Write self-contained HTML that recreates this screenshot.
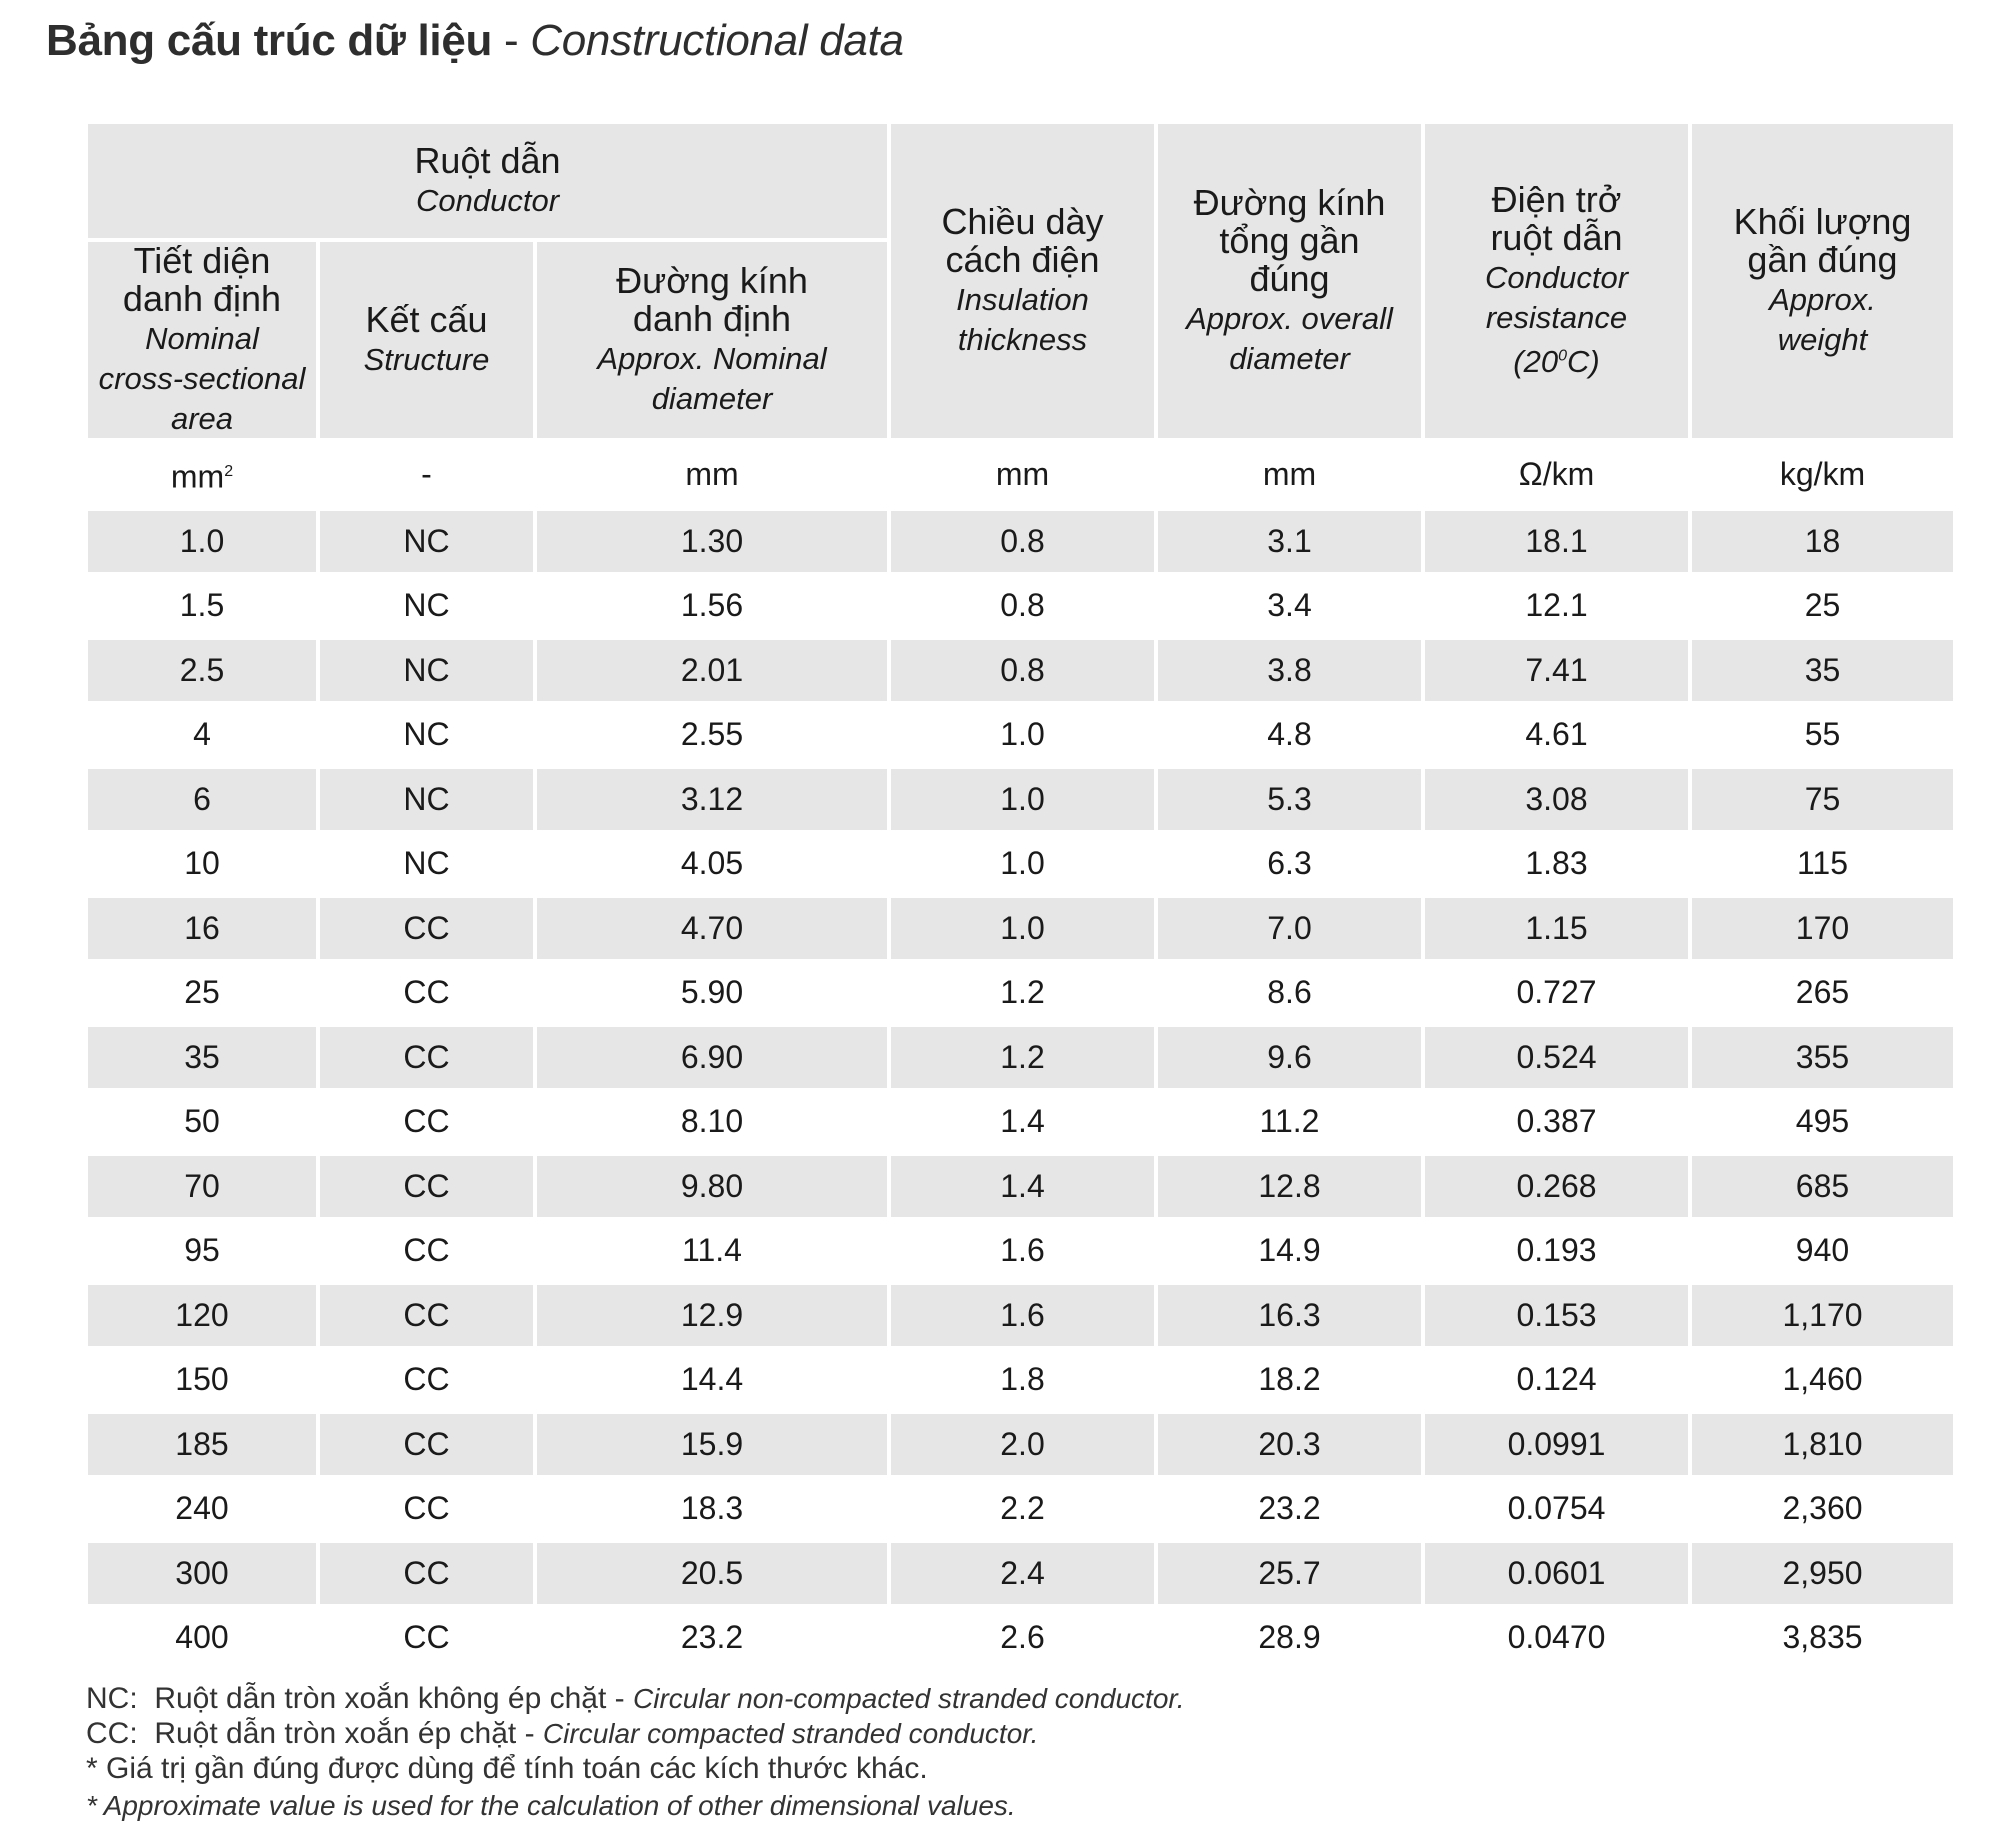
<!DOCTYPE html>
<html><head><meta charset="utf-8"><style>
html,body{margin:0;padding:0;background:#fff;}
body{width:2000px;height:1823px;position:relative;overflow:hidden;font-family:"Liberation Sans",Arial,sans-serif;color:#1a1a1a;}
.title{position:absolute;left:46px;top:16px;font-size:44px;color:#2e2e2e;letter-spacing:-0.3px;}
.title b{font-weight:bold;}
.title i{font-weight:normal;}
table{position:absolute;left:84px;top:120px;border-collapse:collapse;table-layout:fixed;}
td{border:4px solid #fff;text-align:center;vertical-align:middle;padding:0;font-size:32px;line-height:35px;}
.g td{background:#e6e6e6;}
.h td{background:#e6e6e6;font-size:36px;line-height:38px;}
.h i{font-size:31px;}
tr.d td{height:60.5px;}
.fn{position:absolute;left:86px;font-size:30px;color:#333;white-space:nowrap;}
.fn i{font-size:28px;}
</style></head><body>
<div class="title"><b>Bảng cấu trúc dữ liệu</b> - <i>Constructional data</i></div>
<table>
<colgroup><col style="width:232px"><col style="width:217px"><col style="width:354px"><col style="width:267px"><col style="width:267px"><col style="width:267px"><col style="width:265px"></colgroup>
<tr class="h" style="height:118px"><td colspan="3">Ruột dẫn<br><i>Conductor</i></td>
<td rowspan="2">Chiều dày<br>cách điện<br><i>Insulation<br>thickness</i></td>
<td rowspan="2">Đường kính<br>tổng gần<br>đúng<br><i>Approx. overall<br>diameter</i></td>
<td rowspan="2">Điện trở<br>ruột dẫn<br><i>Conductor<br>resistance<br>(20<sup style="font-size:16px">0</sup>C)</i></td>
<td rowspan="2">Khối lượng<br>gần đúng<br><i>Approx.<br>weight</i></td></tr>
<tr class="h" style="height:188px"><td>Tiết diện<br>danh định<br><i>Nominal<br>cross-sectional<br>area</i></td>
<td>Kết cấu<br><i>Structure</i></td>
<td>Đường kính<br>danh định<br><i>Approx. Nominal<br>diameter</i></td></tr>
<tr style="height:69px"><td>mm<sup style="font-size:16px">2</sup></td><td>-</td><td>mm</td><td>mm</td><td>mm</td><td>Ω/km</td><td>kg/km</td></tr>
<tr class="d g"><td>1.0</td><td>NC</td><td>1.30</td><td>0.8</td><td>3.1</td><td>18.1</td><td>18</td></tr>
<tr class="d"><td>1.5</td><td>NC</td><td>1.56</td><td>0.8</td><td>3.4</td><td>12.1</td><td>25</td></tr>
<tr class="d g"><td>2.5</td><td>NC</td><td>2.01</td><td>0.8</td><td>3.8</td><td>7.41</td><td>35</td></tr>
<tr class="d"><td>4</td><td>NC</td><td>2.55</td><td>1.0</td><td>4.8</td><td>4.61</td><td>55</td></tr>
<tr class="d g"><td>6</td><td>NC</td><td>3.12</td><td>1.0</td><td>5.3</td><td>3.08</td><td>75</td></tr>
<tr class="d"><td>10</td><td>NC</td><td>4.05</td><td>1.0</td><td>6.3</td><td>1.83</td><td>115</td></tr>
<tr class="d g"><td>16</td><td>CC</td><td>4.70</td><td>1.0</td><td>7.0</td><td>1.15</td><td>170</td></tr>
<tr class="d"><td>25</td><td>CC</td><td>5.90</td><td>1.2</td><td>8.6</td><td>0.727</td><td>265</td></tr>
<tr class="d g"><td>35</td><td>CC</td><td>6.90</td><td>1.2</td><td>9.6</td><td>0.524</td><td>355</td></tr>
<tr class="d"><td>50</td><td>CC</td><td>8.10</td><td>1.4</td><td>11.2</td><td>0.387</td><td>495</td></tr>
<tr class="d g"><td>70</td><td>CC</td><td>9.80</td><td>1.4</td><td>12.8</td><td>0.268</td><td>685</td></tr>
<tr class="d"><td>95</td><td>CC</td><td>11.4</td><td>1.6</td><td>14.9</td><td>0.193</td><td>940</td></tr>
<tr class="d g"><td>120</td><td>CC</td><td>12.9</td><td>1.6</td><td>16.3</td><td>0.153</td><td>1,170</td></tr>
<tr class="d"><td>150</td><td>CC</td><td>14.4</td><td>1.8</td><td>18.2</td><td>0.124</td><td>1,460</td></tr>
<tr class="d g"><td>185</td><td>CC</td><td>15.9</td><td>2.0</td><td>20.3</td><td>0.0991</td><td>1,810</td></tr>
<tr class="d"><td>240</td><td>CC</td><td>18.3</td><td>2.2</td><td>23.2</td><td>0.0754</td><td>2,360</td></tr>
<tr class="d g"><td>300</td><td>CC</td><td>20.5</td><td>2.4</td><td>25.7</td><td>0.0601</td><td>2,950</td></tr>
<tr class="d"><td>400</td><td>CC</td><td>23.2</td><td>2.6</td><td>28.9</td><td>0.0470</td><td>3,835</td></tr>
</table>
<div class="fn" style="top:1682px">NC:&nbsp; Ruột dẫn tròn xoắn không ép chặt - <i>Circular non-compacted stranded conductor.</i></div>
<div class="fn" style="top:1717px">CC:&nbsp; Ruột dẫn tròn xoắn ép chặt - <i>Circular compacted stranded conductor.</i></div>
<div class="fn" style="top:1752px">* Giá trị gần đúng được dùng để tính toán các kích thước khác.</div>
<div class="fn" style="top:1789px"><i>* Approximate value is used for the calculation of other dimensional values.</i></div>
</body></html>
